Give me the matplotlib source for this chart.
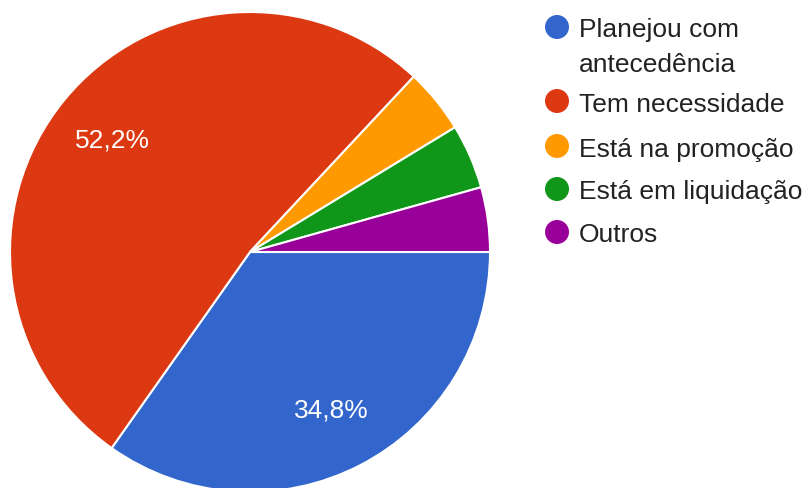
import matplotlib.pyplot as plt
from matplotlib.patches import Ellipse

categories = ["Planejou com\nantecedência", "Tem necessidade", "Está na promoção",
              "Está em liquidação", "Outros"]
responses = [8, 12, 1, 1, 1]
colors = ["#3366cc", "#dc3912", "#ff9900", "#109618", "#990099"]

plt.rcParams["font.family"] = ["Liberation Sans", "DejaVu Sans"]

W, H = 808, 489
fig = plt.figure(figsize=(W / 100, H / 100), dpi=100)
fig.patch.set_facecolor("white")

# pie area: centre (250, 253) px, radius 240 px
cx, cy, r = 250, 253, 240
ax = fig.add_axes([(cx - r) / W, (H - cy - r) / H, 2 * r / W, 2 * r / H])
ax.set_aspect("equal")


def pct_label(p):
    if p < 5:
        return ""
    return f"{p:.1f}%".replace(".", ",")


wedges, texts, autotexts = ax.pie(
    responses, colors=colors, startangle=0, counterclock=False,
    autopct=pct_label, pctdistance=0.74,
    wedgeprops=dict(edgecolor="white", linewidth=1.5),
    textprops=dict(color="white", fontsize=19), radius=1.0)
ax.set_xlim(-1, 1)
ax.set_ylim(-1, 1)
ax.axis("off")

# legend drawn in pixel positions on the figure
legend_y = [28, 102, 147, 190, 233]
dot_r = 12
for label, col, y in zip(categories, colors, legend_y):
    fig.patches.append(Ellipse((557 / W, (H - y) / H), 2 * dot_r / W, 2 * dot_r / H,
                               transform=fig.transFigure,
                               facecolor=col, edgecolor="none"))
    lines = label.split("\n")
    for k, line in enumerate(lines):
        fig.text(579 / W, (H - y - 34 * k) / H, line, fontsize=19, color="#222222",
                 va="center_baseline", ha="left")

fig.savefig("out.png", dpi=100)
